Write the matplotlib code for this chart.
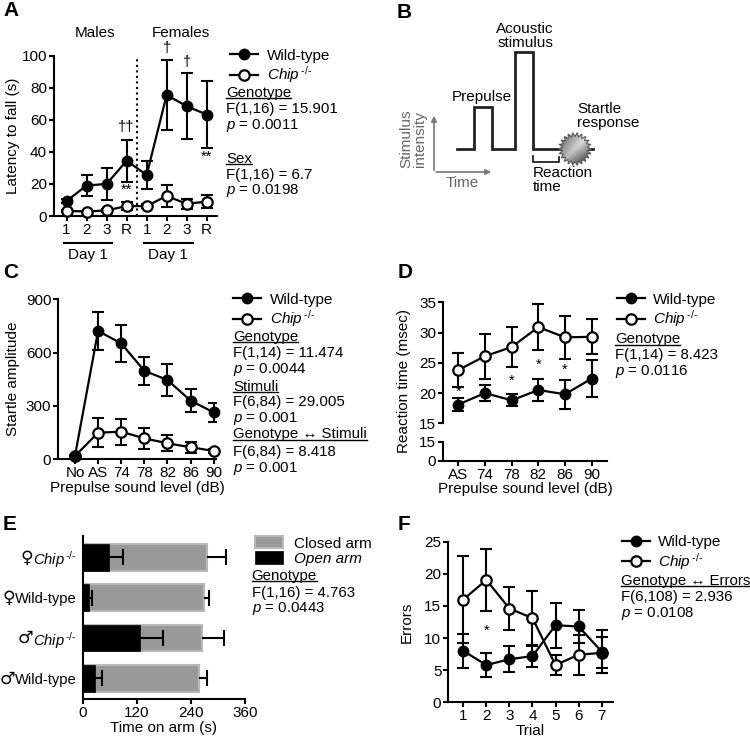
import numpy as np
import matplotlib
matplotlib.use("Agg")
import matplotlib.pyplot as plt
from matplotlib.lines import Line2D
from matplotlib.patches import Polygon

plt.rcParams['font.family'] = ['Liberation Sans', 'DejaVu Sans']
plt.rcParams['mathtext.fontset'] = 'custom'
plt.rcParams['mathtext.rm'] = 'Liberation Sans'
plt.rcParams['mathtext.it'] = 'Liberation Sans:italic'
plt.rcParams['font.size'] = 10.5
plt.rcParams['axes.linewidth'] = 1.5

W, H = 750, 740
CHIP = r'$\mathit{Chip}^{\,\text{-/-}}$'

# ---- data ----
# A: rotarod
a_ticks = ['1', '2', '3', 'R', '1', '2', '3', 'R']
a_wt = [9.4, 19.0, 20.0, 34.5, 25.6, 75.5, 68.5, 63.3]
a_wt_sem = [1.5, 6.7, 10.0, 13.0, 9.0, 21.6, 20.4, 20.8]
a_ko = [3.2, 2.8, 3.5, 6.2, 6.2, 12.5, 7.6, 9.0]
a_ko_sem = [0.8, 0.6, 1.0, 2.5, 1.0, 7.0, 3.0, 3.8]

# C: startle amplitude
c_ticks = ['No', 'AS', '74', '78', '82', '86', '90']
c_wt = [18, 722, 652, 498, 446, 330, 264]
c_wt_sem = [5, 107, 106, 80, 89, 65, 54]
c_ko = [18, 150, 155, 118, 90, 68, 47]
c_ko_sem = [5, 80, 73, 60, 46, 30, 10]

# D: reaction time
d_ticks = ['AS', '74', '78', '82', '86', '90']
d_wt = [18.1, 20.0, 18.8, 20.5, 19.8, 22.4]
d_wt_sem = [1.1, 1.3, 1.0, 1.8, 2.4, 3.0]
d_ko = [23.8, 26.1, 27.6, 30.9, 29.2, 29.3]
d_ko_sem = [2.8, 3.7, 3.3, 3.8, 3.5, 2.9]

# E: elevated plus maze (bottom to top)
e_sex = [u'\u2642', u'\u2642', u'\u2640', u'\u2640']
e_labels = ['Wild-type', CHIP, 'Wild-type', CHIP]
e_closed = [257.8, 264.5, 269.0, 275.6]
e_closed_sem = [17.8, 48.5, 11.0, 41.4]
e_open = [28.2, 128.0, 15.0, 57.8]
e_open_sem = [14.0, 49.8, 5.0, 32.6]

# F: maze errors
f_trials = [1, 2, 3, 4, 5, 6, 7]
f_wt = [8.0, 5.8, 6.7, 7.2, 12.0, 11.8, 7.9]
f_wt_sem = [2.6, 1.9, 2.0, 1.7, 3.5, 2.6, 3.3]
f_ko = [16.0, 19.05, 14.6, 13.1, 5.8, 7.4, 7.7]
f_ko_sem = [6.7, 4.8, 3.4, 4.3, 1.6, 3.1, 2.4]

# B: schematic trace (time, intensity)
b_trace_x = [457, 474, 474, 492, 492, 515, 515, 533, 533, 593]
b_trace_y = [149, 149, 107, 107, 149, 149, 52, 52, 149, 149]

fig = plt.figure(figsize=(7.5, 7.4), dpi=100)


def box(l, t, r, b):
    return [l / W, 1 - b / H, (r - l) / W, (b - t) / H]


def ftext(x, y, s, **kw):
    kw.setdefault('va', 'center')
    return fig.text(x / W, 1 - y / H, s, **kw)


def style(ax):
    for s in ['top', 'right']:
        ax.spines[s].set_visible(False)
    ax.tick_params(direction='out', length=3.5, width=1.5, pad=1.5, labelsize=11)


def series(ax, x, wt, wt_sem, ko, ko_sem):
    ax.errorbar(x, wt, yerr=wt_sem, fmt='none', ecolor='black', elinewidth=1.5,
                capsize=4.5, capthick=1.5, zorder=2)
    ax.errorbar(x, ko, yerr=ko_sem, fmt='none', ecolor='black', elinewidth=1.5,
                capsize=4.5, capthick=1.5, zorder=2)
    l1, = ax.plot(x, wt, '-o', color='black', lw=1.6, ms=7.5, zorder=4, clip_on=False)
    l2, = ax.plot(x, ko, '-o', color='black', mfc='white', mec='black', mew=1.6,
                  lw=1.6, ms=7.5, zorder=3, clip_on=False)
    return l1, l2


def legend(handles, labels, x, y, **kw):
    opts = dict(loc='center left', bbox_to_anchor=(x / W, 1 - y / H), frameon=False,
                fontsize=11, handlelength=1.85, handletextpad=0.55, labelspacing=0.12,
                borderpad=0, borderaxespad=0, numpoints=1)
    opts.update(kw)
    return fig.legend(handles, labels, **opts)


underlined = []


def stats(x, rows):
    for y, s, ul in rows:
        t = ftext(x, y, s, ha='left', fontsize=10.8)
        if ul:
            underlined.append(t)


def ylab(x, y, s):
    ftext(x, y, s, rotation=90, ha='center', fontsize=11)


# panel letters
for letter, (lx, ly) in {'A': (3, 11), 'B': (397, 12), 'C': (3, 273), 'D': (398, 273),
                         'E': (3, 525), 'F': (398, 525)}.items():
    ftext(lx, ly, letter, fontsize=15, fontweight='bold', ha='left')

# ---------------- A ----------------
axA = fig.add_axes(box(54, 55.7, 216.7, 216))
style(axA)
xa = np.arange(len(a_ticks))
hA = series(axA, xa, a_wt, a_wt_sem, a_ko, a_ko_sem)
axA.set_xlim(-0.63, 7.5)
axA.set_ylim(0, 100)
axA.set_yticks([0, 20, 40, 60, 80, 100])
axA.set_xticks(xa)
axA.set_xticklabels(a_ticks)
axA.axvline(3.5, color='black', ls=':', lw=1.5)
ylab(13, 136, 'Latency to fall (s)')
axA.text(1.4, 114, 'Males', ha='center', va='center', fontsize=11)
axA.text(5.7, 114, 'Females', ha='center', va='center', fontsize=11)
for x0, x1, xc in [(-0.13, 2.25, 1.07), (3.87, 6.3, 5.07)]:
    axA.plot([x0, x1], [-16.7, -16.7], color='black', lw=1.5, clip_on=False)
    axA.text(xc, -24.3, 'Day 1', ha='center', va='center', fontsize=11)
for xs, ys, s in [(3, 55.7, u'\u2020\u2020'), (3, 16.5, '**'), (5, 104.8, u'\u2020'),
                  (6, 96, u'\u2020'), (7, 37, '**')]:
    axA.text(xs, ys, s, ha='center', va='center', fontsize=10.5)
legend(hA, ['Wild-type', CHIP], 230, 67)
stats(226, [(93, 'Genotype', True), (109, 'F(1,16) = 15.901', False),
            (125, r'$p$ = 0.0011', False), (159, 'Sex', True),
            (175, 'F(1,16) = 6.7', False), (191, r'$p$ = 0.0198', False)])

# ---------------- B ----------------
axB = fig.add_axes(box(380, 0, 750, 250))
axB.set_xlim(380, 750)
axB.set_ylim(250, 0)
axB.axis('off')
axB.plot(b_trace_x, b_trace_y, color='#222222', lw=2.0, solid_joinstyle='miter', zorder=2)
axB.plot([533, 533, 559, 559], [156, 162, 162, 157], color='#222222', lw=1.3)
axB.annotate('', xy=(434, 113), xytext=(434, 173),
             arrowprops=dict(arrowstyle='-|>', color='#777777', lw=1.2, mutation_scale=8))
axB.annotate('', xy=(494, 172), xytext=(433.4, 172),
             arrowprops=dict(arrowstyle='-|>', color='#777777', lw=1.2, mutation_scale=8))
axB.text(525, 36, 'Acoustic\nstimulus', ha='center', va='center', linespacing=1.0, fontsize=11)
axB.text(482, 97, 'Prepulse', ha='center', va='center', fontsize=11)
axB.text(577, 116, 'Startle\nresponse', ha='left', va='center', linespacing=1.0, fontsize=11)
axB.text(533, 180, 'Reaction\ntime', ha='left', va='center', linespacing=1.0, fontsize=11)
axB.text(462, 183, 'Time', ha='center', va='center', color='#666666', fontsize=11)
axB.text(413, 139, 'Stimulus\nintensity', ha='center', va='center', rotation=90,
         color='#666666', linespacing=0.95, fontsize=11)
cx, cy = 575, 149
ang = np.linspace(0, 2 * np.pi, 44, endpoint=False)
rad = np.where(np.arange(44) % 2 == 0, 16.5, 12.5)
star = Polygon(np.column_stack([cx + rad * np.cos(ang), cy + rad * np.sin(ang)]),
               closed=True, facecolor='none', edgecolor='#555555', lw=0.8, zorder=4)
axB.add_patch(star)
gx, gy = np.meshgrid(np.linspace(-1, 1, 60), np.linspace(-1, 1, 60))
grad = 0.8 - 0.6 * np.abs(gx + gy) / 2 - 0.12 * gy
img = axB.imshow(grad, extent=(cx - 17, cx + 17, cy + 17, cy - 17), cmap='gray',
                 vmin=0, vmax=1, zorder=3, aspect='auto')
img.set_clip_path(star)
axB.set_xlim(380, 750)
axB.set_ylim(250, 0)

# ---------------- C ----------------
axC = fig.add_axes(box(58.3, 299.3, 216, 459.3))
style(axC)
xc_ = np.arange(len(c_ticks))
hC = series(axC, xc_, c_wt, c_wt_sem, c_ko, c_ko_sem)
axC.set_xlim(-0.72, 6.1)
axC.set_ylim(0, 900)
axC.set_yticks([0, 300, 600, 900])
axC.set_xticks(xc_)
axC.set_xticklabels(c_ticks)
axC.set_xlabel('Prepulse sound level (dB)', labelpad=0.5, fontsize=11)
ylab(13, 379, 'Startle amplitude')
legend(hC, ['Wild-type', CHIP], 233, 311)
stats(233, [(336.7, 'Genotype', True), (353.3, 'F(1,14) = 11.474', False),
            (370, r'$p$ = 0.0044', False), (386.7, 'Stimuli', True),
            (401.7, 'F(6,84) = 29.005', False), (418.3, r'$p$ = 0.001', False),
            (434.3, u'Genotype \u2194 Stimuli', True), (451.7, 'F(6,84) = 8.418', False),
            (468.3, r'$p$ = 0.001', False)])

# ---------------- D (broken axis) ----------------
axD = fig.add_axes(box(443.3, 302.3, 606.7, 423.3))
axD2 = fig.add_axes(box(443.3, 441.7, 606.7, 460.7))
style(axD)
style(axD2)
axD.spines['bottom'].set_visible(False)
axD.tick_params(axis='x', bottom=False, labelbottom=False)
xd = np.arange(len(d_ticks))
hD = series(axD, xd, d_wt, d_wt_sem, d_ko, d_ko_sem)
for ax in (axD, axD2):
    ax.set_xlim(-0.56, 5.56)
axD.set_ylim(15, 35)
axD.set_yticks([15, 20, 25, 30, 35])
axD2.set_ylim(0, 15)
axD2.set_yticks([0, 15])
axD2.set_xticks(xd)
axD2.set_xticklabels(d_ticks)
axD2.set_xlabel('Prepulse sound level (dB)', labelpad=0.5, fontsize=11)
for xs, ys in [(0, 20.2), (2, 22.0), (3, 24.6), (4, 23.9)]:
    axD.text(xs, ys, '*', ha='center', va='center')
ylab(404, 381, 'Reaction time (msec)')
legend(hD, ['Wild-type', CHIP], 616.7, 311)
stats(615, [(339.3, 'Genotype', True), (355, 'F(1,14) = 8.423', False),
            (371, r'$p$ = 0.0116', False)])

# ---------------- E ----------------
axE = fig.add_axes(box(82.7, 536, 245, 699.3))
style(axE)
ye = np.arange(len(e_labels))
bc = axE.barh(ye, e_closed, height=0.66, color='#999999', edgecolor='#b8b8b8', lw=1.5,
              zorder=2)
bo = axE.barh(ye, e_open, height=0.66, color='black', edgecolor='black', lw=0.5, zorder=3)
for vals, sems in [(e_closed, e_closed_sem), (e_open, e_open_sem)]:
    ends = np.array(vals) + np.array(sems)
    axE.hlines(ye, vals, ends, color='black', lw=1.5, zorder=4)
    axE.plot(ends, ye, ls='none', marker='|', ms=12, mew=1.5, color='black', zorder=4)
axE.set_xlim(0, 360)
axE.set_ylim(-0.52, 3.53)
axE.set_xticks([0, 120, 240, 360])
axE.set_yticks(ye)
axE.set_yticklabels(e_labels)
axE.tick_params(axis='y', length=0, pad=4, labelsize=10.6)
axE.set_xlabel('Time on arm (s)', labelpad=0.5, fontsize=11)
legE = legend([bc, bo], ['Closed arm', 'Open arm'], 255, 551, handlelength=1.83,
              handleheight=0.85, handletextpad=0.75, labelspacing=0.05)
legE.get_texts()[1].set_style('italic')
stats(251.7, [(576, 'Genotype', True), (592.7, 'F(1,16) = 4.763', False),
              (608.3, r'$p$ = 0.0443', False)])

# ---------------- F ----------------
axF = fig.add_axes(box(448.3, 541.7, 612.7, 702.3))
style(axF)
hF = series(axF, f_trials, f_wt, f_wt_sem, f_ko, f_ko_sem)
axF.set_xlim(0.35, 7.48)
axF.set_ylim(0, 25)
axF.set_yticks([0, 5, 10, 15, 20, 25])
axF.set_xticks(f_trials)
axF.set_xlabel('Trial', labelpad=0.5, fontsize=11)
ylab(407, 622, 'Errors')
axF.text(2, 11.1, '*', ha='center', va='center')
legend(hF, ['Wild-type', CHIP], 621.7, 553.5)
stats(620.7, [(581, u'Genotype \u2194 Errors', True), (596.7, 'F(6,108) = 2.936', False),
              (613.3, r'$p$ = 0.0108', False)])

# underline headings, sex symbols in front of E tick labels
fig.canvas.draw()
for t in underlined:
    bb = t.get_window_extent()
    yy = (bb.y0 + 1.8) / fig.bbox.height
    fig.add_artist(Line2D([bb.x0 / fig.bbox.width, bb.x1 / fig.bbox.width], [yy, yy],
                          color='black', lw=1.0, transform=fig.transFigure))
for lab, sym, yv in zip(axE.get_yticklabels(), e_sex, ye):
    bb = lab.get_window_extent()
    yc = axE.transData.transform((0, yv))[1]
    fig.text((bb.x0 - 0.5) / fig.bbox.width, yc / fig.bbox.height, sym, ha='right',
             va='center', fontsize=12.5, fontweight='bold', family='DejaVu Sans')

fig.savefig('out.png', dpi=100)
